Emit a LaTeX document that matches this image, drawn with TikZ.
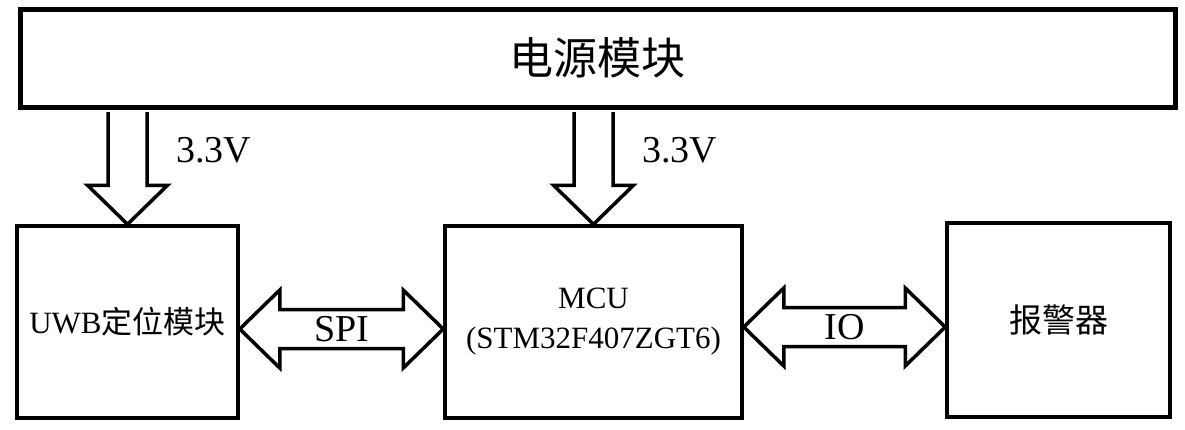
\documentclass[tikz,border=0pt]{standalone}
\usepackage{fontspec}
\setmainfont{Liberation Serif}
\newfontfamily\cjk{Noto Sans CJK SC}
\usetikzlibrary{calc}

\begin{document}
\begin{tikzpicture}[x=1pt, y=-1pt,
  box/.style={draw, line width=3.5pt, inner sep=0pt, align=center,
              font=\fontsize{31}{40}\selectfont},
  blk/.style={draw, fill=white, line width=3.5pt, line join=miter},
  lbl/.style={font=\fontsize{38}{40}\selectfont}]
\useasboundingbox (0,0) rectangle (1185,429);
\node[box, line width=5pt, minimum width=1155pt, minimum height=98pt,
      font=\cjk\fontsize{44}{48}\selectfont] (pwr) at (597.5,58) {电源模块};
\node[box, minimum width=221pt, minimum height=192pt] (uwb) at (127.5,322)
  {UWB{\cjk 定位模块}};
\node[box, minimum width=297pt, minimum height=192pt] (mcu) at (593.5,322)
  {MCU\\(STM32F407ZGT6)};
\node[box, minimum width=223pt, minimum height=194pt,
      font=\cjk\fontsize{33}{40}\selectfont] (alarm) at (1058.5,320) {报警器};
\foreach \dst in {uwb, mcu} {
  \coordinate (\dst-top) at ($(\dst.north |- pwr.south)+(0,2.5)$);
  \draw[blk] ($(\dst-top)+(-19.5,0)$) -- ($(\dst.north)+(-19.5,-39)$)
    -- ++(-20.5,0) -- (\dst.north) -- ++(40,-39) -- ++(-20.5,0)
    -- ($(\dst-top)+(19.5,0)$);
  \node[lbl, anchor=west] (\dst-volt) at ($(\dst-top)+(45,38)$) {3.3V};
}
\coordinate (spiL) at ($(uwb.east)+(0,7)$);
\coordinate (spiR) at (mcu.west |- spiL);
\draw[blk] (spiL) -- ++(40,-39) -- ++(0,19.5) -- ($(spiR)+(-40,-19.5)$)
  -- ++(0,-19.5) -- (spiR) -- ++(-40,39) -- ++(0,-19.5)
  -- ($(spiL)+(40,19.5)$) -- ++(0,19.5) -- cycle;
\node[lbl] (spi) at ($(spiL)!0.5!(spiR)$) {SPI};
\coordinate (ioL) at ($(mcu.east)+(0,5)$);
\coordinate (ioR) at (alarm.west |- ioL);
\draw[blk] (ioL) -- ++(40,-39) -- ++(0,19.5) -- ($(ioR)+(-40,-19.5)$)
  -- ++(0,-19.5) -- (ioR) -- ++(-40,39) -- ++(0,-19.5)
  -- ($(ioL)+(40,19.5)$) -- ++(0,19.5) -- cycle;
\node[lbl] (io) at ($(ioL)!0.5!(ioR)$) {IO};
\end{tikzpicture}
\end{document}
